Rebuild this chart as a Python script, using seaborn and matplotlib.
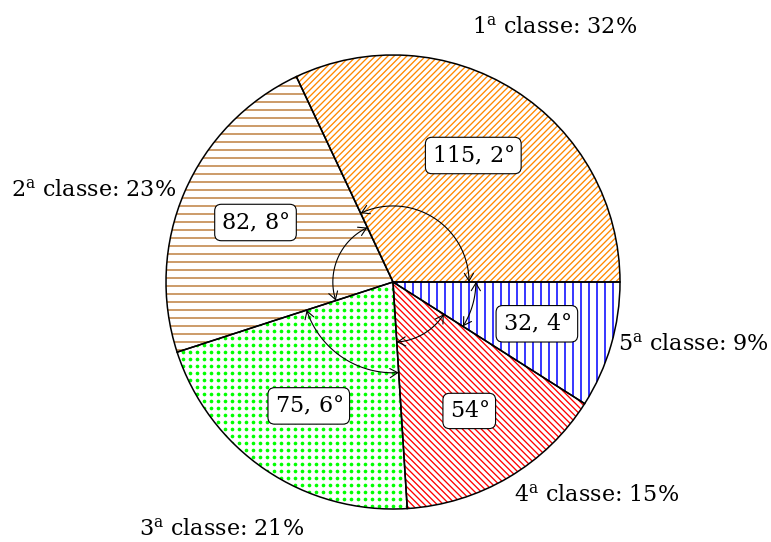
import numpy as np
import matplotlib
matplotlib.use("Agg")
import matplotlib.pyplot as plt
import seaborn as sns
from matplotlib.collections import LineCollection
from matplotlib.patches import FancyArrowPatch
from matplotlib.path import Path

# Distribution of the five classes
classes = ["1", "2", "3", "4", "5"]
percentages = [32, 23, 21, 15, 9]

# Central angle of each sector (360° = 100 %)
degrees = [p * 3.6 for p in percentages]

sns.set_theme(style="white")
plt.rcParams["font.family"] = ["DejaVu Serif"]
plt.rcParams["mathtext.fontset"] = "dejavuserif"
plt.rcParams["text.color"] = "black"

W, H, DPI = 771, 542, 100
PX = 227.0          # pixels per unit radius
CX, CY = 393, 260   # pie centre, pixels from the bottom-left corner

fig = plt.figure(figsize=(W / DPI, H / DPI), dpi=DPI)
ax = fig.add_axes([0, 0, 1, 1])

# White sectors (pattern background)
wedges, _ = ax.pie(percentages, startangle=0, counterclock=True, radius=1,
                   wedgeprops=dict(facecolor="white", linewidth=0, zorder=1))


def line_fill(clip, angle, spacing_px, color, lw=0.9, shift_px=0.5):
    sp = spacing_px / PX
    th = np.deg2rad(angle)
    d = np.array([np.cos(th), np.sin(th)])
    n = np.array([-np.sin(th), np.cos(th)])
    offs = np.arange(-1.5, 1.5 + sp, sp) + shift_px / PX
    segs = [[o * n - 1.5 * d, o * n + 1.5 * d] for o in offs]
    lc = LineCollection(segs, colors=color, linewidths=lw, zorder=2)
    ax.add_collection(lc)
    lc.set_clip_path(clip)


def dot_fill(clip, spacing_px, color):
    sp = spacing_px / PX
    g = np.arange(-1.05, 1.05, sp)
    X, Y = np.meshgrid(g, g)
    sc = ax.scatter(X.ravel(), Y.ravel(), s=7.0, color=color,
                    linewidths=0, zorder=2)
    sc.set_clip_path(clip)


# Patterns: north-east lines, horizontal lines, dots, north-west lines, vertical lines
line_fill(wedges[0], 45, 6.3 / np.sqrt(2), "#ff8800", lw=0.95)
line_fill(wedges[1], 0, 8, "#bf8040", lw=1.1)
dot_fill(wedges[2], 7, "#00ff00")
line_fill(wedges[3], -45, 6.3 / np.sqrt(2), "#ff0000", lw=0.95)
line_fill(wedges[4], 90, 8, "#0000ff", lw=1.1, shift_px=0.0)

# Sector outlines
ax.pie(percentages, startangle=0, counterclock=True, radius=1,
       wedgeprops=dict(fill=False, edgecolor="black", linewidth=1.1, zorder=3))

# Angle arcs with arrows at both ends
arc_radii = [0.335, 0.265, 0.40, 0.265, 0.365]
start = 0.0
for deg, rr in zip(degrees, arc_radii):
    t = np.deg2rad(np.linspace(start, start + deg, 80))
    verts = np.column_stack([rr * np.cos(t), rr * np.sin(t)])
    arr = FancyArrowPatch(path=Path(verts),
                          arrowstyle="<->,head_length=0.5,head_width=0.3",
                          mutation_scale=11, lw=0.8, color="black", zorder=4)
    ax.add_patch(arr)
    start += deg

# Angle value boxes
start = 0.0
for deg in degrees:
    mid = np.deg2rad(start + deg / 2)
    txt = f"{deg:.1f}".rstrip("0").rstrip(".")
    ax.text(0.66 * np.cos(mid), 0.66 * np.sin(mid),
            "$" + txt.replace(".", r",\,") + "$°",
            ha="center", va="center", fontsize=16, zorder=5,
            bbox=dict(boxstyle="round,pad=0.3", facecolor="white",
                      edgecolor="black", linewidth=0.8))
    start += deg

# Class labels around the pie (angle in degrees, distance in radii)
label_polar = [(57.5, 1.327), (163.0, 1.38), (235.4, 1.327),
               (313.5, 1.30), (348.3, 1.35)]
for c, p, (a, r) in zip(classes, percentages, label_polar):
    th = np.deg2rad(a)
    ax.text(r * np.cos(th), r * np.sin(th),
            f"${c}^{{\\mathrm{{a}}}}$ classe: {p}%",
            ha="center", va="center", fontsize=16, zorder=5)

ax.set_aspect("auto")
ax.set_xlim(-CX / PX, (W - CX) / PX)
ax.set_ylim(-CY / PX, (H - CY) / PX)
ax.axis("off")

fig.savefig("out.png", dpi=DPI)
